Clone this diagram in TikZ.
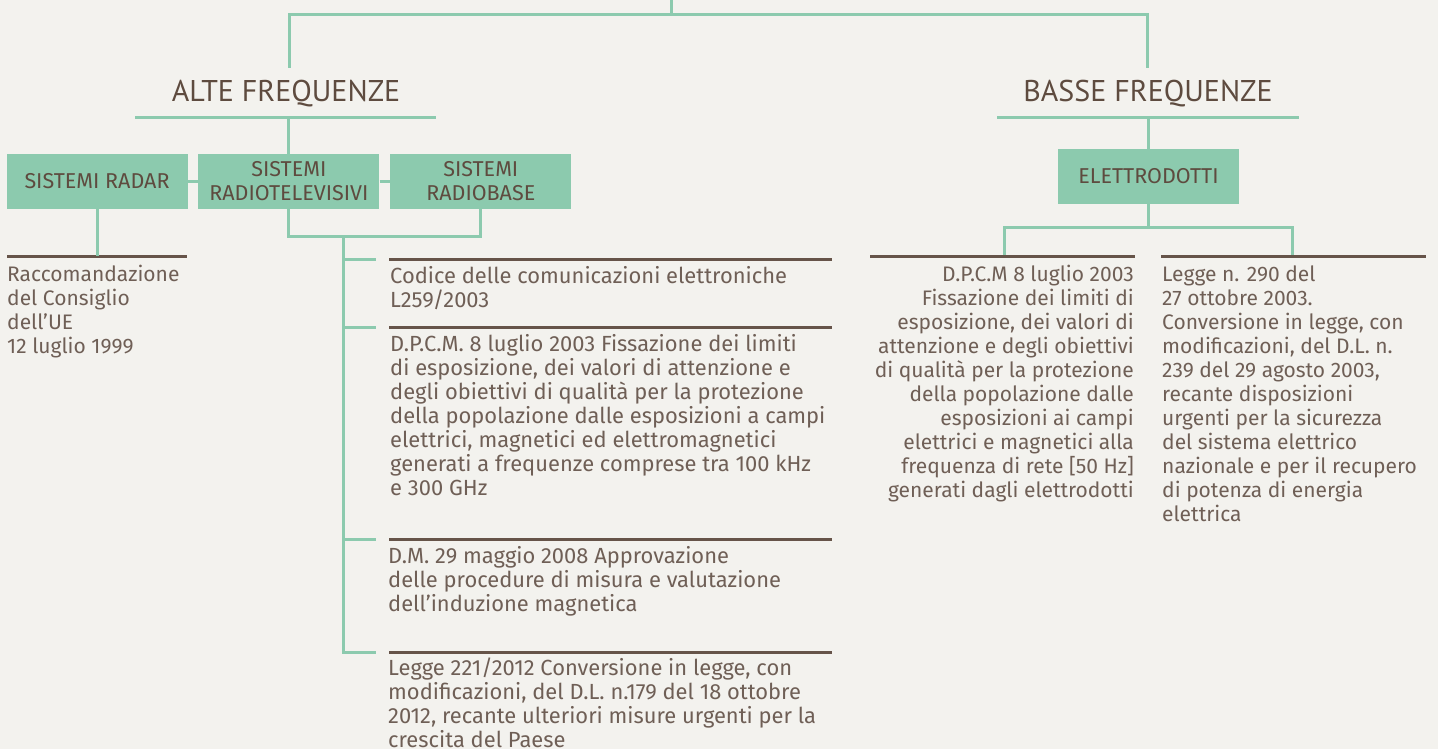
\documentclass[tikz,border=0pt]{standalone}
\usepackage{fontspec}
\setmainfont{Fira Sans}
\newfontfamily\headfont{PT Sans}
\usetikzlibrary{positioning}

\definecolor{paper}{HTML}{F3F2EE}
\definecolor{mint}{HTML}{8CCAAE}
\definecolor{umber}{HTML}{5E4B3F}
\definecolor{umbertext}{HTML}{6F5F56}

\tikzset{
  link/.style={draw=mint,line width=3pt},
  rule/.style={draw=umber!95,line width=3pt},
  head/.style={text=umber,inner sep=0pt,font=\headfont\fontsize{30}{32}\selectfont},
  sysbox/.style={fill=mint,text=umber,minimum width=181pt,minimum height=55pt,
    inner sep=0pt,align=center,font=\fontsize{21.5}{24}\selectfont},
  body/.style={text=umbertext,inner sep=0pt,font=\fontsize{21}{24}\selectfont},
  bodywide/.style={body,font=\fontsize{21.9}{24}\selectfont},
}

\begin{document}
\begin{tikzpicture}[x=1pt,y=-1pt,line cap=butt,line join=miter]
  \fill[paper] (0,0) rectangle (1438,749);
  \useasboundingbox (0,0) rectangle (1438,749);

  % top bar
  \coordinate (root) at (671,0);
  \coordinate (bar) at (671,15);
  \coordinate (alteIn) at (289,68);
  \coordinate (basseIn) at (1147,68);
  \draw[link] (root) -- (bar);
  \draw[link] (alteIn) -- (alteIn |- bar) -- (basseIn |- bar) -- (basseIn);

  % headings
  \node[head,anchor=base] (alte) at (286,101.5) {ALTE FREQUENZE};
  \node[head,anchor=base] (basse) at (1148,101.5) {BASSE FREQUENZE};
  \coordinate (alteL) at (135,118);
  \coordinate (alteR) at (436,118);
  \coordinate (basseL) at (997,118);
  \coordinate (basseR) at (1299,118);
  \draw[link] (alteL) -- (alteR);
  \draw[link] (basseL) -- (basseR);

  % alte frequenze
  \node[sysbox] (radar) at (97,181.5) {SISTEMI RADAR};
  \node[sysbox,right=10.5pt of radar] (radiotv) {SISTEMI\\RADIOTELEVISIVI};
  \node[sysbox,right=10.5pt of radiotv] (radiobase) {SISTEMI\\RADIOBASE};
  \draw[link] (radiotv.north |- alteL) -- (radiotv.north);
  \draw[link] (radar.east) -- (radiotv.west);
  \draw[link] (radiotv.east) -- (radiobase.west);
  \draw[link] (radiotv.south) -- ++(0,27) coordinate (fork) -| (radiobase.south);

  % multi-line nodes sit on the baseline of their last line
  \coordinate (raccRule) at (7,256);
  \draw[rule] (raccRule) -- ++(180,0);
  \draw[link] (radar.south) -- (radar.south |- raccRule);
  \node[body,anchor=base west,align=left] (racc) at (7,353.5)
    {Raccomandazione\\del Consiglio\\dell’UE\\12 luglio 1999};

  \coordinate (trunk) at (343,236);
  \coordinate (codRule) at (389,259);
  \coordinate (dpcmRule) at (389,327.5);
  \coordinate (dmRule) at (389,539.5);
  \coordinate (leggeRule) at (389,652);
  \draw[link] (trunk) -- (trunk |- leggeRule) -- ([xshift=-13pt]leggeRule);
  \draw[link] (trunk |- codRule) -- ([xshift=-13pt]codRule);
  \draw[link] (trunk |- dpcmRule) -- ([xshift=-13pt]dpcmRule);
  \draw[link] (trunk |- dmRule) -- ([xshift=-13pt]dmRule);
  \draw[rule] (codRule) -- ++(443,0);
  \draw[rule] (dpcmRule) -- ++(443,0);
  \draw[rule] (dmRule) -- ++(443,0);
  \draw[rule] (leggeRule) -- ++(443,0);

  \node[bodywide,anchor=base west,align=left] (codice) at (390,307)
    {Codice delle comunicazioni elettroniche\\L259/2003};
  \node[bodywide,anchor=base west,align=left] (dpcm) at (390,495.5)
    {D.P.C.M. 8 luglio 2003 Fissazione dei limiti\\di esposizione, dei valori di attenzione e\\
     degli obiettivi di qualità per la protezione\\della popolazione dalle esposizioni a campi\\
     elettrici, magnetici ed elettromagnetici\\generati a frequenze comprese tra 100 kHz\\e 300 GHz};
  \node[bodywide,anchor=base west,align=left] (dm) at (388,611.5)
    {D.M. 29 maggio 2008 Approvazione\\delle procedure di misura e valutazione\\dell’induzione magnetica};
  \node[bodywide,anchor=base west,align=left] (legge) at (388,747)
    {Legge 221/2012 Conversione in legge, con\\modificazioni, del D.L. n.179 del 18 ottobre\\
     2012, recante ulteriori misure urgenti per la\\crescita del Paese};

  % basse frequenze
  \node[sysbox] (elettro) at (1148.5,176.5) {ELETTRODOTTI};
  \draw[link] (elettro.north |- basseL) -- (elettro.north);
  \coordinate (dpcmbRule) at (870,256);
  \coordinate (legbRule) at (1161,256);
  \draw[link] (elettro.south) -- ++(0,23) coordinate (split);
  \draw[link] (1004,256) |- (split) -| (1292,256);
  \draw[rule] (dpcmbRule) -- ++(265,0);
  \draw[rule] (legbRule) -- ++(265,0);

  \node[body,anchor=base east,align=right] (dpcmb) at (1134,497)
    {D.P.C.M 8 luglio 2003\\Fissazione dei limiti di\\esposizione, dei valori di\\
     attenzione e degli obiettivi\\di qualità per la protezione\\della popolazione dalle\\
     esposizioni ai campi\\elettrici e magnetici alla\\frequenza di rete [50 Hz]\\
     generati dagli elettrodotti};
  \node[body,anchor=base west,align=left] (leggeb) at (1162,521)
    {Legge n. 290 del\\27 ottobre 2003.\\Conversione in legge, con\\modificazioni, del D.L. n.\\
     239 del 29 agosto 2003,\\recante disposizioni\\urgenti per la sicurezza\\del sistema elettrico\\
     nazionale e per il recupero\\di potenza di energia\\elettrica};
\end{tikzpicture}
\end{document}
